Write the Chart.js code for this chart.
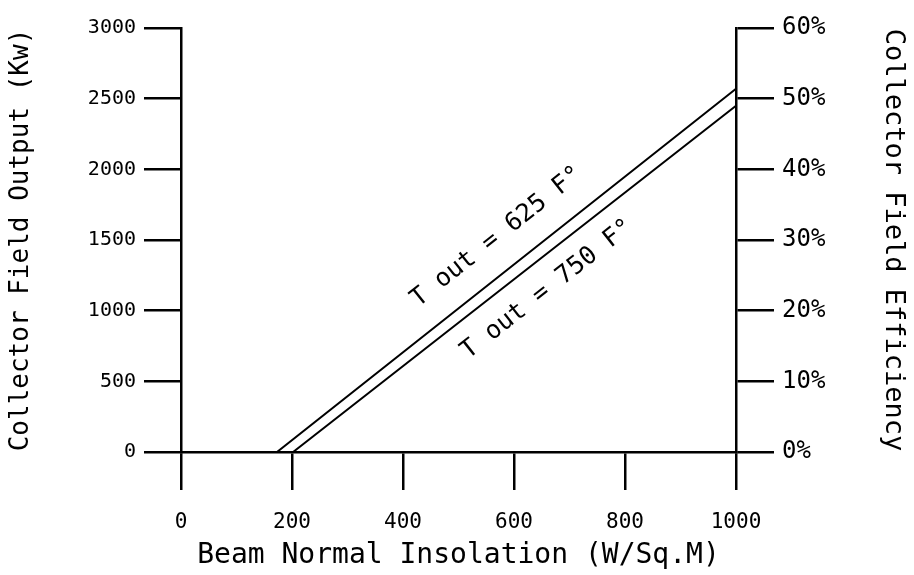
<!DOCTYPE html>
<html>
<head>
<meta charset="utf-8">
<script src="https://cdn.jsdelivr.net/npm/chart.js@4.4.1/dist/chart.umd.min.js"></script>
<style>
  html, body { margin: 0; padding: 0; background: #fff; }
  #chart { display: block; }
</style>
</head>
<body>
<canvas id="chart" width="914" height="575"></canvas>
<script>
// data
const insolation625 = [0, 173, 1000];
const output625 = [0, 0, 2570];
const insolation750 = [0, 202, 1000];
const output750 = [0, 0, 2450];

const xTicks = [0, 200, 400, 600, 800, 1000];
const outputTicks = [0, 500, 1000, 1500, 2000, 2500, 3000];
const effTicks = [0, 10, 20, 30, 40, 50, 60];

// curve labels (text, anchor in data units)
const curveLabels = ['T out = 625 F\u00b0', 'T out = 750 F\u00b0'];
const labelX = [569, 660];
const labelY = [1521, 1150];

const mono = "'DejaVu Sans Mono', monospace";

function points(xs, ys) {
  return xs.map((x, i) => ({ x: x, y: ys[i] }));
}

// draws the rotated labels along each line
const curveLabelPlugin = {
  id: 'curveLabels',
  afterDatasetsDraw(chart) {
    const ctx = chart.ctx;
    const xs = chart.scales.x, ys = chart.scales.y;
    chart.data.datasets.forEach((ds, i) => {
      const d = ds.data;
      const a = d[d.length - 2], b = d[d.length - 1];
      const ang = Math.atan2(ys.getPixelForValue(b.y) - ys.getPixelForValue(a.y),
                             xs.getPixelForValue(b.x) - xs.getPixelForValue(a.x));
      ctx.save();
      ctx.translate(xs.getPixelForValue(labelX[i]), ys.getPixelForValue(labelY[i]));
      ctx.rotate(ang);
      ctx.font = '25px ' + mono;
      ctx.fillStyle = '#000';
      ctx.textAlign = 'center';
      ctx.textBaseline = 'middle';
      ctx.fillText(curveLabels[i], 0, 0);
      ctx.restore();
    });
  }
};

const axisGrid = {
  drawOnChartArea: false,
  drawTicks: true,
  color: '#000',
  lineWidth: 2.5
};

new Chart(document.getElementById('chart'), {
  type: 'line',
  data: {
    datasets: [
      {
        label: '625',
        data: points(insolation625, output625),
        borderColor: '#000',
        borderWidth: 2,
        pointRadius: 0,
        tension: 0
      },
      {
        label: '750',
        data: points(insolation750, output750),
        borderColor: '#000',
        borderWidth: 2,
        pointRadius: 0,
        tension: 0
      }
    ]
  },
  options: {
    responsive: false,
    devicePixelRatio: 1,
    animation: false,
    layout: { padding: { top: 28, left: 0, right: 0, bottom: 0 } },
    plugins: {
      legend: { display: false },
      tooltip: { enabled: false }
    },
    scales: {
      x: {
        type: 'linear',
        min: 0,
        max: 1000,
        afterBuildTicks: s => { s.ticks = xTicks.map(v => ({ value: v })); },
        afterFit: s => { s.height = 123; },
        grid: Object.assign({}, axisGrid, { tickLength: 38 }),
        border: { display: true, color: '#000', width: 2.5 },
        ticks: {
          color: '#000',
          padding: 20,
          maxRotation: 0,
          font: { family: mono, size: 21 },
          callback: v => String(v)
        },
        title: {
          display: true,
          text: 'Beam Normal Insolation (W/Sq.M)',
          color: '#000',
          padding: { top: 0, bottom: 2 },
          font: { family: mono, size: 28 }
        }
      },
      y: {
        position: 'left',
        min: 0,
        max: 3000,
        afterBuildTicks: s => { s.ticks = outputTicks.map(v => ({ value: v })); },
        afterFit: s => { s.width = 181; },
        grid: Object.assign({}, axisGrid, { tickLength: 37 }),
        border: { display: true, color: '#000', width: 2.5 },
        ticks: {
          color: '#000',
          padding: 8,
          font: { family: mono, size: 20 },
          callback: v => String(v)
        },
        title: {
          display: true,
          text: 'Collector Field Output (Kw)',
          color: '#000',
          padding: { top: 6, bottom: 0 },
          font: { family: mono, size: 26 }
        }
      },
      y2: {
        position: 'right',
        min: 0,
        max: 60,
        afterBuildTicks: s => { s.ticks = effTicks.map(v => ({ value: v })); },
        afterFit: s => { s.width = 178; },
        grid: Object.assign({}, axisGrid, { tickLength: 38 }),
        border: { display: true, color: '#000', width: 2.5 },
        ticks: {
          color: '#000',
          padding: 8,
          font: { family: mono, size: 24 },
          callback: v => v + '%'
        },
        title: {
          display: true,
          text: 'Collector Field Efficiency',
          color: '#000',
          padding: { top: 5, bottom: 0 },
          font: { family: mono, size: 27 }
        }
      }
    }
  },
  plugins: [curveLabelPlugin]
});
</script>
</body>
</html>
